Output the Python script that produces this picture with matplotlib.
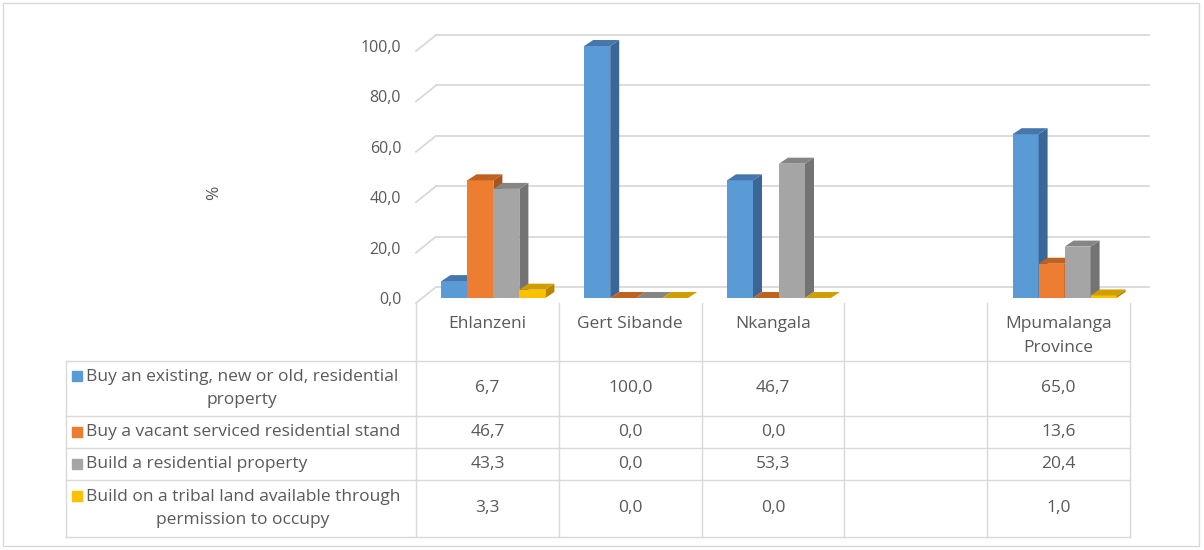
import matplotlib.pyplot as plt
from matplotlib.patches import Polygon, Rectangle

plt.rcParams["font.family"] = ["Open Sans", "DejaVu Sans"]

CATEGORIES = ["Ehlanzeni", "Gert Sibande", "Nkangala", "", "Mpumalanga\nProvince"]
SERIES = [
    "Buy an existing, new or old, residential\nproperty",
    "Buy a vacant serviced residential stand",
    "Build a residential property",
    "Build on a tribal land available through\npermission to occupy",
]
BUY_EXISTING = [6.7, 100.0, 46.7, None, 65.0]
BUY_STAND = [46.7, 0.0, 0.0, None, 13.6]
BUILD_PROPERTY = [43.3, 0.0, 53.3, None, 20.4]
BUILD_TRIBAL = [3.3, 0.0, 0.0, None, 1.0]
Y_TICKS = [0, 20, 40, 60, 80, 100]

FRONT = ["#5B9BD5", "#ED7D31", "#A5A5A5", "#FFC000"]
SIDE = ["#3A6797", "#A8561F", "#737373", "#B58800"]
TOP = ["#4676AC", "#C0621F", "#858585", "#D19E00"]
TEXT = "#595959"
LINE = "#D9D9D9"
FS = 12.5

W, H = 1204, 550
PX_X = 714 / 5      # pixels per category
PX_Y = 252 / 100    # pixels per percent


def fig_box(left, top, right, bottom):
    return [left / W, 1 - bottom / H, (right - left) / W, (bottom - top) / H]


def main() -> None:
    fig = plt.figure(figsize=(W / 100, H / 100), dpi=100)
    fig.patches.append(Rectangle((3 / W, 4 / H), 1196 / W, 543 / H, transform=fig.transFigure,
                                 fill=False, edgecolor=LINE, linewidth=1))

    # column area, drawn in the plane of the bar fronts
    ax = fig.add_axes(fig_box(422, 46, 1136, 298))
    ax.set_xlim(0, 5)
    ax.set_ylim(0, 100)
    for side in ax.spines.values():
        side.set_visible(False)
    ax.set_xticks([])
    ax.set_yticks(Y_TICKS, [f"{t:.1f}".replace(".", ",") for t in Y_TICKS])
    ax.tick_params(axis="y", length=0, pad=15, labelsize=11.5, labelcolor=TEXT)
    ax.patch.set_visible(False)

    # back wall and side wall gridlines
    bx, by = 14 / PX_X, 11 / PX_Y
    fx, fy = -6 / PX_X, -5 / PX_Y
    for t in Y_TICKS:
        ax.plot([bx, 5.035 + bx + fx], [t + by, t + by], color=LINE, lw=1.3, zorder=1, clip_on=False)
        ax.plot([fx, bx], [t + fy, t + by], color=LINE, lw=1.3, zorder=1, clip_on=False)

    # 3D-looking clustered columns
    series = [BUY_EXISTING, BUY_STAND, BUILD_PROPERTY, BUILD_TRIBAL]
    bw = 26 / PX_X
    dx, dy = 9 / PX_X, 6 / PX_Y
    for i, vals in enumerate(series):
        for c, v in enumerate(vals):
            if v is None:
                continue
            x0 = c + 0.5 + (i - 2) * bw
            z = 2 + i * 3
            ax.bar(x0, v, width=bw, align="edge", color=FRONT[i], zorder=z, clip_on=False)
            ax.add_patch(Polygon([(x0 + bw, 0), (x0 + bw + dx, dy), (x0 + bw + dx, v + dy), (x0 + bw, v)],
                                 closed=True, facecolor=SIDE[i], edgecolor="none", zorder=z + 1,
                                 clip_on=False))
            ax.add_patch(Polygon([(x0, v), (x0 + bw, v), (x0 + bw + dx, v + dy), (x0 + dx, v + dy)],
                                 closed=True, facecolor=TOP[i], edgecolor="none", zorder=z + 1,
                                 clip_on=False))

    fig.text(214 / W, 1 - 193 / H, "%", rotation=90, ha="center", va="center", fontsize=FS, color=TEXT)

    # data table under the columns, sharing the category spacing
    tax = fig.add_axes(fig_box(66, 303, 1130, 537))
    x_left = -(416 - 66) / PX_X
    tax.set_xlim(x_left, 5)
    tax.set_ylim(537, 303)
    tax.axis("off")
    rows = [361, 416, 448, 480, 537]
    for y in rows:
        tax.plot([x_left, 5], [y, y], color=LINE, lw=1, clip_on=False)
    for c in range(6):
        tax.plot([c, c], [303, 537], color=LINE, lw=1, clip_on=False)
    tax.plot([x_left, x_left], [361, 537], color=LINE, lw=1, clip_on=False)

    for c, name in enumerate(CATEGORIES):
        tax.text(c + 0.5, 316, name, ha="center", va="top", fontsize=FS, color=TEXT,
                 linespacing=1.65, multialignment="center")

    key_x = x_left + 11 / PX_X
    text_x = x_left + 20 / PX_X
    for i, (label, vals) in enumerate(zip(SERIES, series)):
        mid = (rows[i] + rows[i + 1]) / 2
        two_lines = "\n" in label
        key_y = mid - 12 if two_lines else mid
        tax.plot([key_x], [key_y], marker="s", markersize=6.5, color=FRONT[i], clip_on=False)
        tax.text(text_x, mid, label, ha="left", va="center", fontsize=FS, color=TEXT,
                 linespacing=1.65, multialignment="center")
        for c, v in enumerate(vals):
            if v is None:
                continue
            tax.text(c + 0.5, mid, f"{v:.1f}".replace(".", ","), ha="center", va="center",
                     fontsize=FS, color=TEXT)

    fig.savefig("out.png", dpi=100)
    plt.close(fig)


if __name__ == "__main__":
    main()
